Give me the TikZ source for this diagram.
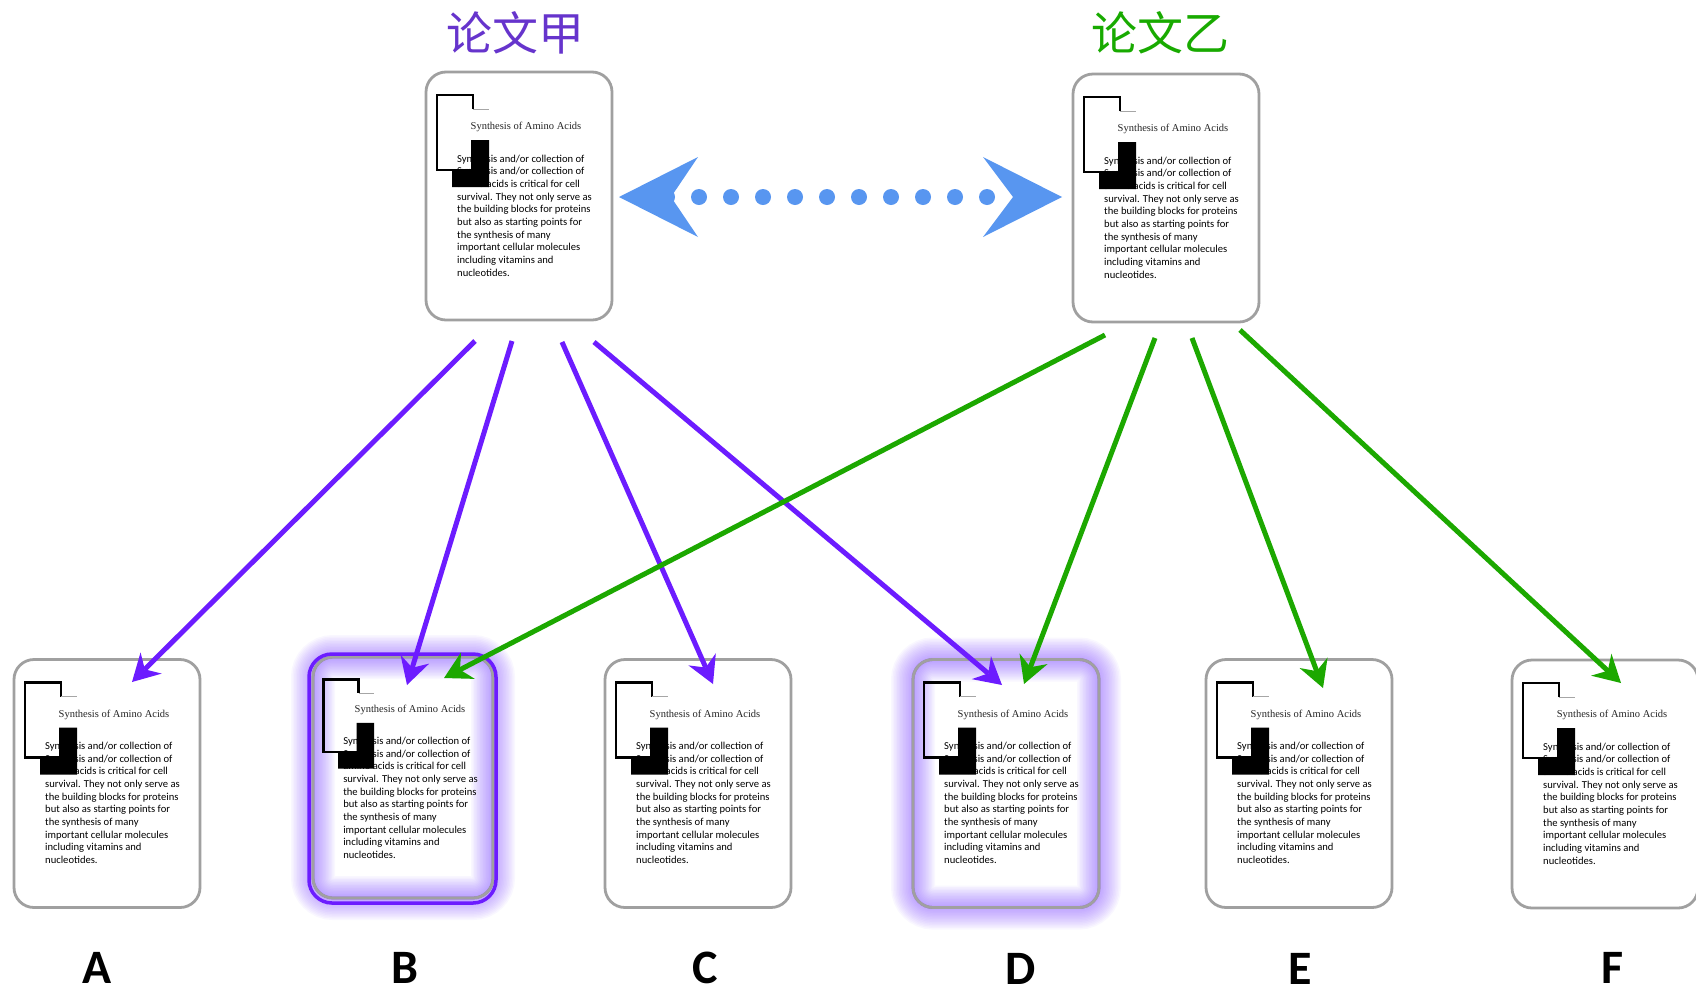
\documentclass[tikz,border=0pt]{standalone}
\usepackage{fontspec}
\usetikzlibrary{arrows.meta,calc}
\newfontfamily\bodyfont{Carlito}
\newfontfamily\titlefont{Liberation Serif}
\newfontfamily\cjkfont{Noto Sans CJK SC}
\newfontfamily\letterfont{Carlito}
\definecolor{purp}{RGB}{108,28,255}
\definecolor{grn}{RGB}{28,168,0}
\definecolor{blu}{RGB}{88,150,240}
\definecolor{cardgray}{RGB}{160,160,160}
\definecolor{lblpurp}{RGB}{102,52,204}
\definecolor{lblgrn}{RGB}{24,170,0}
\definecolor{glowc}{RGB}{125,70,255}
\tikzset{
  card/.style={draw=cardgray, line width=2.8pt, fill=white, rounded corners=20pt,
    minimum width=186pt, minimum height=248pt, inner sep=0pt, outer sep=0pt},
  cardborder/.style={draw=cardgray, line width=2.8pt, rounded corners=20pt},
  titletext/.style={font=\titlefont\fontsize{10.5}{12}\selectfont, inner sep=0pt, text=black!85},
  bodytext/.style={font=\bodyfont\fontsize{10.6}{12.67}\selectfont, align=left,
    anchor=north west, inner sep=0pt, text=black},
  cjk/.style={font=\cjkfont\fontsize{46}{50}\selectfont, inner sep=0pt},
  letter/.style={font=\letterfont\bfseries\fontsize{48}{50}\selectfont, inner sep=0pt},
  parrow/.style={draw=purp, line width=5pt, -{Stealth[length=27pt,width=30pt,inset=9pt,line width=0pt]}},
  garrow/.style={draw=grn, line width=5pt, -{Stealth[length=27pt,width=30pt,inset=9pt,line width=0pt]}},
  glowline/.style={draw=glowc, rounded corners=20pt},
}
\newcommand\doccontent[2][1]{%
\begin{scope}[shift={(#2.north west)}, scale=#1]
  \draw[line width=2.7pt] (47,37) -- (47,23) -- (11,23) -- (11,98) -- (45,98);
  \draw[black!35, line width=0.6pt] (47,37) -- (63,37);
  \node[titletext] at (100,55) {Synthesis of Amino Acids};
  \node[bodytext] at (31,82.5) {Synthesis and/or collection of\\Synthesis and/or collection of\\amino acids is critical for cell\\survival. They not only serve as\\the building blocks for proteins\\but also as starting points for\\the synthesis of many\\important cellular molecules\\including vitamins and\\nucleotides.};
  \fill (45,68) -- (63,68) -- (63,115) -- (26,115) -- (26,98) -- (45,98) -- cycle;
\end{scope}}
\newcommand\glowcard[1]{%
  \foreach \w in {44,41,...,2}{
    \draw[glowline, line width=\w pt, opacity=0.045] (#1.north west) rectangle (#1.south east);
  }
  \draw[cardborder] (#1.north west) rectangle (#1.south east);
}
\begin{document}
\begin{tikzpicture}[x=1pt,y=-1pt]
\useasboundingbox (0,0) rectangle (1696,994);
% titles
\node[cjk, text=lblpurp] (ta) at (515,33) {论文甲};
\node[cjk, text=lblgrn] (tb) at (1160,33) {论文乙};
% cards
\node[card] (pa) at (519,196) {};
\node[card] (pb) at (1166,198) {};
\node[card] (A) at (107,783.5) {};
\node[card, minimum width=180pt, minimum height=241pt] (B) at (403,777.5) {};
\node[card] (C) at (698,783.5) {};
\node[card] (D) at (1006,783.5) {};
\node[card] (E) at (1299,783.5) {};
\node[card] (F) at (1605,784) {};
% glows
\glowcard{B}
\draw[purp, line width=3.5pt, rounded corners=23pt] ($(B.north west)+(-4,-3)$) rectangle ($(B.south east)+(3,5)$);
\glowcard{D}
% contents
\doccontent{pa}
\doccontent{pb}
\doccontent{A}
\doccontent[0.97]{B}
\doccontent{C}
\doccontent{D}
\doccontent{E}
\doccontent{F}
% letters
\node[letter] (la) at (97,968) {A};
\node[letter] (lb) at (405,968) {B};
\node[letter] (lc) at (705,968) {C};
\node[letter] (ld) at (1021,969) {D};
\node[letter] (le) at (1300,969) {E};
\node[letter] (lf) at (1612,968) {F};
% blue double arrow
\coordinate (bl) at ($(pa.east)+(7,1)$);
\coordinate (br) at ($(pb.west)+(-11,-1)$);
\draw[blu, line width=16pt, line cap=round, dash pattern=on 0pt off 32pt] ($(bl)+(48,0)$) -- ($(br)+(-72,0)$);
\fill[blu] (bl) -- ++(79,-40) -- ++(-27,40) -- ++(27,40) -- cycle;
\fill[blu] (br) -- ++(-79,-40) -- ++(30,40) -- ++(-30,40) -- cycle;
% arrow coordinates
\coordinate (pa1) at (475,341);
\coordinate (pa2) at (512,341);
\coordinate (pa3) at (562,342);
\coordinate (pa4) at (594,342);
\coordinate (pb1) at (1105,335);
\coordinate (pb2) at (1155,338);
\coordinate (pb3) at (1192,338);
\coordinate (pb4) at (1240,330);
\coordinate (inA) at (132,682);
\coordinate (inBp) at (407,685);
\coordinate (inC) at (713,684);
\coordinate (inDp) at (1002,685);
\coordinate (inBg) at (444,678);
\coordinate (inDg) at (1024,684);
\coordinate (inE) at (1323,688);
\coordinate (inF) at (1621,683);
% purple arrows
\draw[parrow] (pa1) -- (inA);
\draw[parrow] (pa2) -- (inBp);
\draw[parrow] (pa3) -- (inC);
\draw[parrow] (pa4) -- (inDp);
% green arrows
\draw[garrow] (pb1) -- (inBg);
\draw[garrow] (pb2) -- (inDg);
\draw[garrow] (pb3) -- (inE);
\draw[garrow] (pb4) -- (inF);
\end{tikzpicture}
\end{document}
